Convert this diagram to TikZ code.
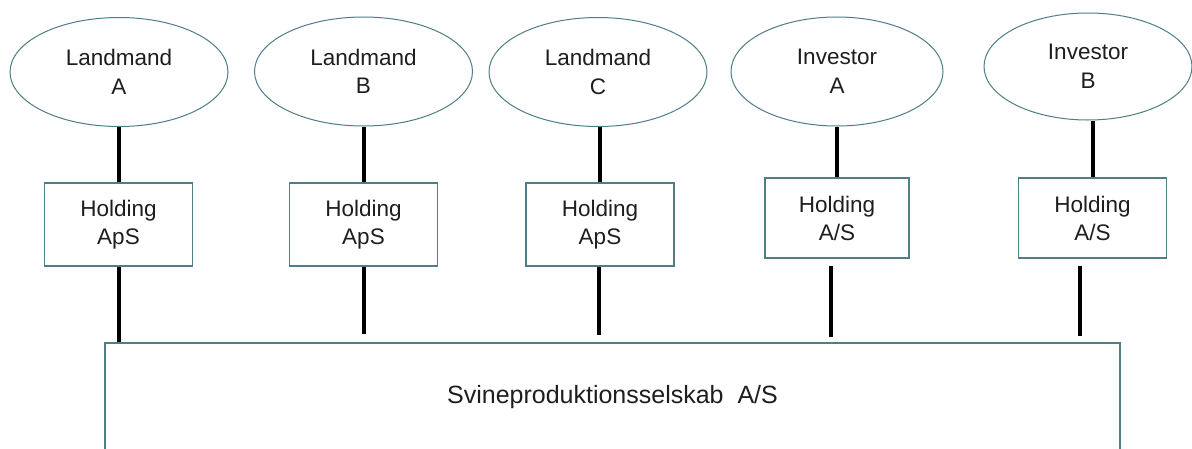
\documentclass[tikz,border=0pt]{standalone}
\usepackage{fontspec}
\setmainfont{Liberation Sans}
\usetikzlibrary{shapes.geometric}
\definecolor{bord}{HTML}{4E7F86}
\definecolor{txt}{HTML}{1E1E1E}
\begin{document}
\begin{tikzpicture}[x=1pt,y=-1pt,
  owner/.style={ellipse,draw=bord,line width=1pt,inner sep=0pt,align=center,text=txt,
    font=\fontsize{22.5}{28.5}\selectfont,minimum height=109pt},
  hold/.style={rectangle,draw=bord,line width=1.2pt,inner sep=0pt,align=center,text=txt,
    font=\fontsize{22.5}{28}\selectfont,minimum width=148pt},
  link/.style={line width=4pt,black}]
\useasboundingbox[fill=white] (0,0) rectangle (1192,448);
% owners
\node[owner,minimum width=218pt] (eA) at (119,72) {Landmand\\A};
\node[owner,minimum width=218pt] (eB) at (363.5,71.5) {Landmand\\B};
\node[owner,minimum width=218pt] (eC) at (598,72) {Landmand\\C};
\node[owner,minimum width=212pt] (eD) at (837,71.5) {Investor\\A};
\node[owner,minimum width=208pt,minimum height=107pt] (eE) at (1088,66.5) {Investor\\B};
% holdings
\node[hold,minimum height=83pt] (hA) at (118.5,224.5) {Holding\\ApS};
\node[hold,minimum height=83pt] (hB) at (363.5,224.5) {Holding\\ApS};
\node[hold,minimum height=83pt] (hC) at (600,224.5) {Holding\\ApS};
\node[hold,minimum height=80pt,minimum width=144pt] (hD) at (837,218) {Holding\\A/S};
\node[hold,minimum height=80pt] (hE) at (1092.5,218) {Holding\\A/S};
% company
\node[hold,minimum width=1015pt,minimum height=108pt,font=\fontsize{25}{30}\selectfont] (big) at (612.5,397) {Svineproduktionsselskab\ \ A/S};
% upper links
\draw[link] (eA.south) -- (eA.south |- hA.north);
\draw[link] (eB.south) -- (eB.south |- hB.north);
\draw[link] (hC.north |- eC.south) -- (hC.north);
\draw[link] (eD.south) -- (eD.south |- hD.north);
\draw[link] (hE.north |- eE.south) -- (hE.north);
% lower links
\coordinate (bB) at (363.5,334);
\coordinate (bC) at (599,335);
\coordinate (tD) at (831,266);
\coordinate (bD) at (831,337);
\coordinate (tE) at (1080,266);
\coordinate (bE) at (1080,336);
\draw[link] (hA.south) -- (hA.south |- big.north);
\draw[link] (hB.south) -- (bB);
\draw[link] (hC.south -| bC) -- (bC);
\draw[link] (tD) -- (bD);
\draw[link] (tE) -- (bE);
\end{tikzpicture}
\end{document}
